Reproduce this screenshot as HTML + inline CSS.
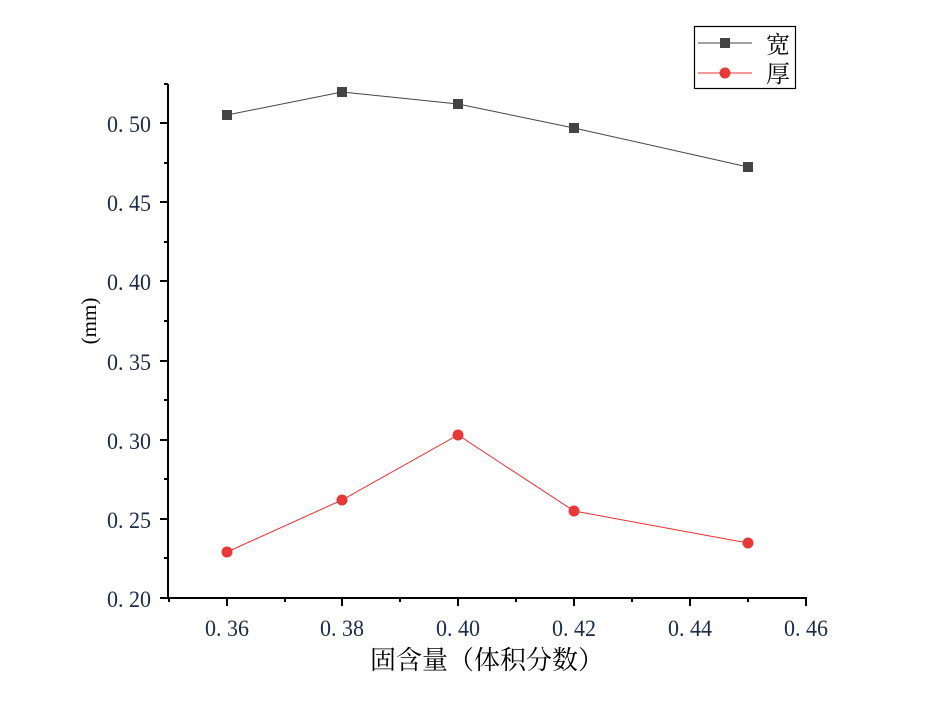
<!DOCTYPE html>
<html><head><meta charset="utf-8"><style>body{margin:0;background:#fff}svg{display:block}text{font-family:"Liberation Serif","Noto Serif CJK SC",serif;fill:#1a2a4a}</style></head><body>
<svg width="941" height="720" xmlns="http://www.w3.org/2000/svg">
<rect width="941" height="720" fill="#fff"/>
<g stroke="#000" stroke-width="2">
<line x1="168" y1="84" x2="168" y2="599"/>
<line x1="167" y1="598" x2="807" y2="598"/>
<line x1="227" y1="598" x2="227" y2="606"/><line x1="342" y1="598" x2="342" y2="606"/><line x1="458" y1="598" x2="458" y2="606"/><line x1="574" y1="598" x2="574" y2="606"/><line x1="690" y1="598" x2="690" y2="606"/><line x1="806" y1="598" x2="806" y2="606"/>
<line x1="169" y1="598" x2="169" y2="602"/><line x1="285" y1="598" x2="285" y2="602"/><line x1="400" y1="598" x2="400" y2="602"/><line x1="516" y1="598" x2="516" y2="602"/><line x1="632" y1="598" x2="632" y2="602"/><line x1="748" y1="598" x2="748" y2="602"/>
<line x1="160" y1="598" x2="168" y2="598"/><line x1="160" y1="519" x2="168" y2="519"/><line x1="160" y1="440" x2="168" y2="440"/><line x1="160" y1="361" x2="168" y2="361"/><line x1="160" y1="281" x2="168" y2="281"/><line x1="160" y1="202" x2="168" y2="202"/><line x1="160" y1="123" x2="168" y2="123"/>
<line x1="164" y1="558" x2="168" y2="558"/><line x1="164" y1="479" x2="168" y2="479"/><line x1="164" y1="400" x2="168" y2="400"/><line x1="164" y1="321" x2="168" y2="321"/><line x1="164" y1="242" x2="168" y2="242"/><line x1="164" y1="163" x2="168" y2="163"/><line x1="164" y1="84" x2="168" y2="84"/>
</g>
<g font-size="23" text-anchor="start">
<text x="107" y="607" textLength="44" lengthAdjust="spacingAndGlyphs">0. 20</text><text x="107" y="528" textLength="44" lengthAdjust="spacingAndGlyphs">0. 25</text><text x="107" y="449" textLength="44" lengthAdjust="spacingAndGlyphs">0. 30</text><text x="107" y="370" textLength="44" lengthAdjust="spacingAndGlyphs">0. 35</text><text x="107" y="290" textLength="44" lengthAdjust="spacingAndGlyphs">0. 40</text><text x="107" y="211" textLength="44" lengthAdjust="spacingAndGlyphs">0. 45</text><text x="107" y="132" textLength="44" lengthAdjust="spacingAndGlyphs">0. 50</text>
</g>
<g font-size="23">
<text x="205" y="636" textLength="44" lengthAdjust="spacingAndGlyphs">0. 36</text><text x="320" y="636" textLength="44" lengthAdjust="spacingAndGlyphs">0. 38</text><text x="436" y="636" textLength="44" lengthAdjust="spacingAndGlyphs">0. 40</text><text x="552" y="636" textLength="44" lengthAdjust="spacingAndGlyphs">0. 42</text><text x="668" y="636" textLength="44" lengthAdjust="spacingAndGlyphs">0. 44</text><text x="784" y="636" textLength="44" lengthAdjust="spacingAndGlyphs">0. 46</text>
</g>
<text x="487" y="669" font-size="26" text-anchor="middle" style="fill:#000">固含量（体积分数）</text>
<text transform="translate(96,321) rotate(-90)" font-size="21" text-anchor="middle" style="fill:#000">(mm)</text>
<polyline points="227,115 342,92 458,104 574,128 748,167" fill="none" stroke="#444" stroke-width="1"/>
<g fill="#444"><rect x="222" y="110" width="10" height="10"/><rect x="337" y="87" width="10" height="10"/><rect x="453" y="99" width="10" height="10"/><rect x="569" y="123" width="10" height="10"/><rect x="743" y="162" width="10" height="10"/></g>
<polyline points="227,552 342,500 458,435 574,511 748,543" fill="none" stroke="#e83030" stroke-width="1"/>
<g fill="#e83838"><circle cx="227" cy="552" r="5.5"/><circle cx="342" cy="500" r="5.5"/><circle cx="458" cy="435" r="5.5"/><circle cx="574" cy="511" r="5.5"/><circle cx="748" cy="543" r="5.5"/></g>
<rect x="694.5" y="26.5" width="101" height="62" fill="#fff" stroke="#000" stroke-width="1.2"/>
<line x1="698" y1="43" x2="752" y2="43" stroke="#444" stroke-width="1"/><rect x="720" y="38" width="10" height="10" fill="#444"/>
<line x1="698" y1="73" x2="752" y2="73" stroke="#e83030" stroke-width="1"/><circle cx="725" cy="73" r="5.5" fill="#e83838"/>
<text x="766" y="53" font-size="24" style="fill:#000">宽</text>
<text x="766" y="82" font-size="24" style="fill:#000">厚</text>
</svg>
</body></html>
